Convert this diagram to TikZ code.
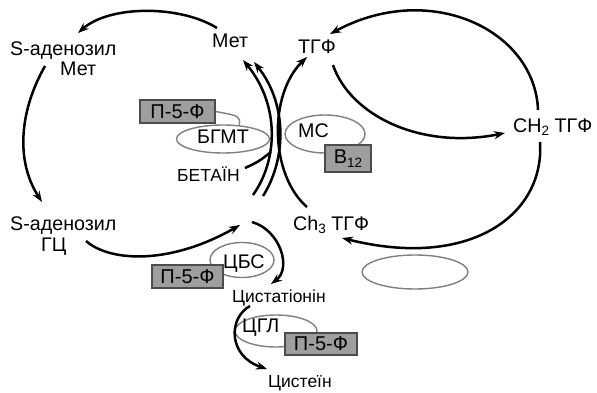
\documentclass[tikz,border=0pt]{standalone}
\usepackage{fontspec}
\setmainfont{Liberation Sans}
\usetikzlibrary{arrows.meta,shapes.geometric}
\newcommand{\mysub}[1]{\raisebox{-0.35ex}{\fontsize{13.5}{13.5}\selectfont #1}}
\begin{document}
\begin{tikzpicture}[x=1pt,y=-1pt,
  big/.style={font=\fontsize{19.7}{20}\selectfont, inner sep=0pt, anchor=base west},
  small/.style={font=\fontsize{17.5}{18}\selectfont, inner sep=0pt, anchor=base west},
  cofac/.style={draw=black!70, fill=black!38, line width=1.3pt, font=\fontsize{20}{20}\selectfont, inner sep=0pt},
  enz/.style={ellipse, draw=black!50, line width=1.4pt, inner sep=0pt},
  enzline/.style={draw=black!50, line width=1.4pt},
  flow/.style={line width=2.5pt, -{Stealth[length=11pt,width=8pt]}},
  plain/.style={line width=2.5pt}]
\useasboundingbox[fill=white] (0,0) rectangle (597,393);

% enzyme loops
\node[enz, minimum width=93pt, minimum height=28pt] (e1) at (223,139) {};
\node[enz, minimum width=80pt, minimum height=38pt] (e2) at (325,134) {};
\node[enz, minimum width=64pt, minimum height=35pt] (e3) at (242,260) {};
\node[enz, minimum width=82pt, minimum height=32pt] (e4) at (276,331) {};
\node[enz, minimum width=106pt, minimum height=34pt] (e5) at (415,272) {};

% cofactor boxes
\node[cofac, minimum width=75pt, minimum height=23pt] (b1) at (177.5,111.5) {П-5-Ф};
\node[cofac, minimum width=71pt, minimum height=23pt] (b2) at (187.5,276.5) {П-5-Ф};
\node[cofac, minimum width=72pt, minimum height=22pt] (b3) at (321,344) {П-5-Ф};
\node[cofac, minimum width=46pt, minimum height=27pt] (b4) at (348,158.5) {B\mysub{12}};
\draw[enzline] (b1.east) .. controls (240,116) .. (e1.40);

% labels
\node[big, anchor=north west, align=left, font=\fontsize{19.7}{20.5}\selectfont] (sam) at (10,41.5) {S-аденозил\\\hspace*{50pt}Мет};
\node[big, anchor=north west, align=left, font=\fontsize{19.7}{21.5}\selectfont] (sah) at (10,216.5) {S-аденозил\\\hspace*{31pt}ГЦ};
\node[big] (met) at (212,48) {Мет};
\node[big] (thf) at (298,54) {ТГФ};
\node[big] (ch2) at (513,132) {CH\mysub{2} ТГФ};
\node[big] (ch3) at (293,230) {Ch\mysub{3} ТГФ};
\node[big] (bgmt) at (197,144) {БГМТ};
\node[big] (ms) at (298,138) {МС};
\node[small] (betain) at (177,182) {БЕТАЇН};
\node[big] (cbs) at (223,268) {ЦБС};
\node[small] (cysta) at (232,302) {Цистатіонін};
\node[big] (cgl) at (242,332) {ЦГЛ};
\node[small] (cys) at (268,387) {Цистеїн};

% connector end points
\coordinate (metout) at (217,28);   \coordinate (samin) at (78,33);
\coordinate (samout) at (45,66);    \coordinate (sahin) at (42,202);
\coordinate (sahout) at (86,241);   \coordinate (hcyin) at (240,225);
\coordinate (hcyout) at (252,222);  \coordinate (cystain) at (271,284);
\coordinate (cystaout) at (250,306);\coordinate (cysin) at (267,369);
\coordinate (thfout) at (333,65);   \coordinate (ch2in) at (505,133);
\coordinate (ch2outa) at (538,110); \coordinate (thfin) at (330,34);
\coordinate (ch2outb) at (540,142); \coordinate (ch3in) at (342,238);
\coordinate (a1s) at (253,195);     \coordinate (a1e) at (243,60);
\coordinate (a2s) at (263,196);     \coordinate (a2e) at (254,62);
\coordinate (a3s) at (307,207);     \coordinate (a3e) at (307,57);
\coordinate (bets) at (245,168);    \coordinate (bete) at (271,152);

% cycles
\draw[flow] (metout) .. controls (180,5) and (110,5) .. (samin);
\draw[flow] (samout) .. controls (20,110) and (15,160) .. (sahin);
\draw[flow] (sahout) .. controls (110,262) and (170,265) .. (hcyin);
\draw[flow] (hcyout) .. controls (280,230) and (292,268) .. (cystain);
\draw[flow] (cystaout) .. controls (228,318) and (228,356) .. (cysin);
\draw[flow] (thfout) .. controls (350,115) and (420,150) .. (ch2in);
\draw[flow] (ch2outa) .. controls (535,30) and (430,-20) .. (thfin);
\draw[flow] (ch2outb) .. controls (545,215) and (470,270) .. (ch3in);

% central crossing arcs
\draw[flow] (a1s) .. controls (278,160) and (280,105) .. (a1e);
\draw[flow] (a2s) .. controls (286,160) and (288,105) .. (a2e);
\draw[flow] (a3s) .. controls (270,175) and (268,95) .. (a3e);
\draw[plain] (bets) .. controls (258,162) .. (bete);
\end{tikzpicture}
\end{document}
